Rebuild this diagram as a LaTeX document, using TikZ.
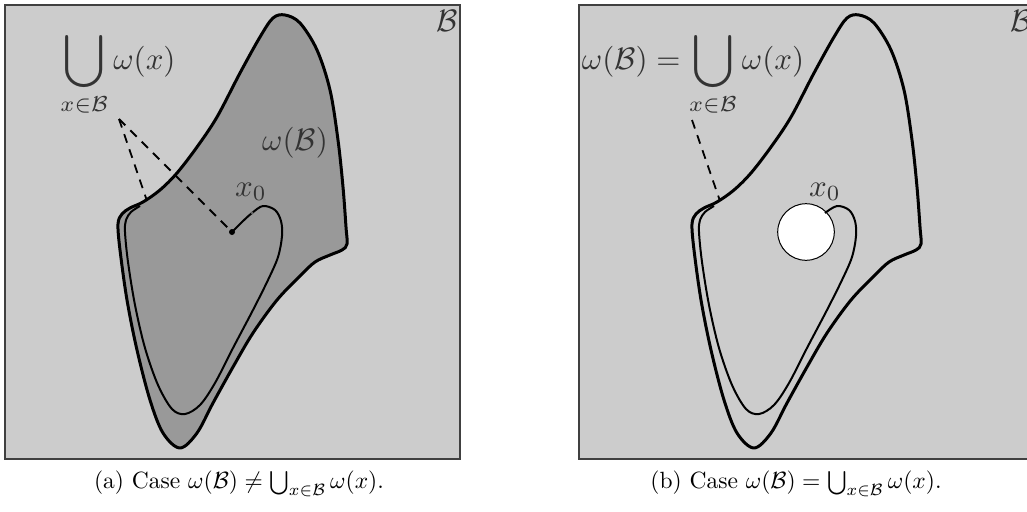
\documentclass[tikz,border=0pt]{standalone}
\usepackage{graphicx}
\newcommand{\bigU}{\mathop{\vcenter{\hbox{\scalebox{1.2}{$\displaystyle\bigcup$}}}}\limits}
\begin{document}
\begin{tikzpicture}[x=1pt,y=-1pt,
  panel/.style={fill=bgray,draw=black!75,line width=1.3pt},
  boundary/.style={line width=3pt,line join=round},
  traj/.style={line width=2pt,line join=round},
  guide/.style={dashed,dash pattern=on 9pt off 7pt,line width=1.8pt},
  lbl/.style={text=black!80,scale=3.1,inner sep=0pt},
  captext/.style={scale=2.35,inner sep=0pt}]
\definecolor{bgray}{HTML}{CCCCCC}
\definecolor{dgray}{HTML}{999999}
\useasboundingbox (0,0) rectangle (1027,511);
\def\outerpts{(285,15) (300,23) (317,50) (330,90) (338,140) (343,187) (346,227) (347,244) (342,250) (330,255) (315,262) (300,276) (277,300) (253,333) (233,367) (213,403) (197,433) (180,448) (163,433) (150,400) (137,350) (127,300) (120,250) (118,224) (122,214) (130,208) (143,202) (160,190) (177,173) (197,147) (217,117) (240,73) (260,37) (273,18)}
\def\innerpts{(263,206) (275,210) (281,221) (282,236) (278,257) (268,280) (253,310) (233,348) (215,383) (200,405) (185,414) (172,409) (158,385) (145,348) (135,305) (128,262) (125,232) (126,220) (131,212) (140,206)}
% ---------------- panel (a)
\begin{scope}
\path[panel] (5,5) rectangle (460,459);
\draw[boundary,fill=dgray] plot[smooth cycle,tension=0.55] coordinates {\outerpts};
\coordinate (eqa) at (232,232);
\coordinate (x0a) at (252,213);
\coordinate (hita) at (147,201);
\draw[traj] plot[smooth,tension=0.55] coordinates {(eqa) (242,222) (x0a) \innerpts};
\fill (eqa) circle (3pt);
\fill[black!60] (x0a) circle (1.5pt);
\node[lbl] (ua) at (118,74) {$\bigU_{x\in\mathcal B}\omega(x)$};
\coordinate (dsa) at (119,119);
\draw[guide] (dsa) -- (hita);
\draw[guide] (dsa) -- (eqa);
\node[lbl] (wba) at (295,143) {$\omega(\mathcal B)$};
\node[lbl] (x0la) at (251,192) {$x_0$};
\node[lbl] (ba) at (447,21) {$\mathcal B$};
\node[captext] (capa) at (239,484) {(a) Case $\omega(\mathcal B)\neq\bigcup_{x\in\mathcal B}\omega(x)$.};
\end{scope}
% ---------------- panel (b)
\begin{scope}[xshift=574pt]
\path[panel] (5,5) rectangle (460,459);
\draw[boundary] plot[smooth cycle,tension=0.55] coordinates {\outerpts};
\coordinate (ceb) at (232,232);
\coordinate (x0b) at (251,213);
\coordinate (hitb) at (146,201);
\draw[fill=white,line width=1pt] (ceb) circle (28.3pt);
\draw[traj] plot[smooth,tension=0.55] coordinates {(x0b) \innerpts};
\node[lbl] (ub) at (119,74) {$\omega(\mathcal B)=\bigU_{x\in\mathcal B}\omega(x)$};
\coordinate (dsb) at (118,120);
\draw[guide] (dsb) -- (hitb);
\node[lbl] (x0lb) at (251,192) {$x_0$};
\node[lbl] (bb) at (447,21) {$\mathcal B$};
\node[captext] (capb) at (222,484) {(b) Case $\omega(\mathcal B)=\bigcup_{x\in\mathcal B}\omega(x)$.};
\end{scope}
\end{tikzpicture}
\end{document}
